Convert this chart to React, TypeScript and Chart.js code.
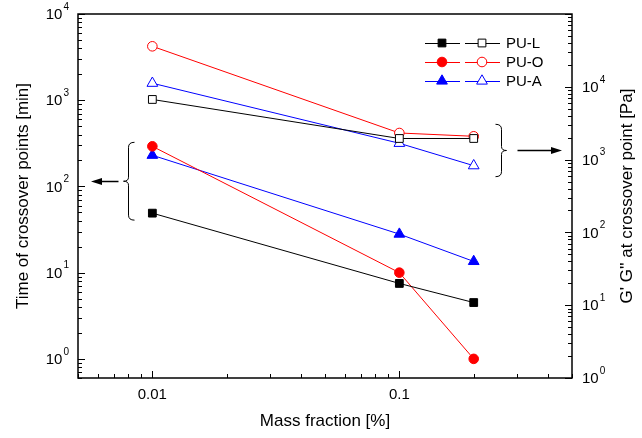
import React, { useEffect, useRef } from "react";
import { Chart, registerables } from "chart.js";

Chart.register(...registerables);

const massFraction = [0.01, 0.1, 0.2];
// time of crossover points [min] (left axis, filled symbols)
const timePUL = [49, 7.5, 4.5];
const timePUO = [292, 10, 1.0];
const timePUA = [230, 28, 13.5];
// G' G'' at crossover point [Pa] (right axis, open symbols)
const modPUL = [6700, 1950, 1950];
const modPUO = [36000, 2320, 2090];
const modPUA = [11200, 1675, 825];

const seriesNames = ["PU-L", "PU-O", "PU-A"];
const seriesColors = ["#000000", "#ff0000", "#0000ff"];
const seriesMarkers = ["rect", "circle", "triangle"];
const markerRadius = [5.5, 4.8, 6.2];

const xTickLabels = ["0.01", "0.1"];
const xTickValues = [0.01, 0.1];
const leftExps = [0, 1, 2, 3, 4];
const rightExps = [0, 1, 2, 3, 4, 5];

const FONT = "'Liberation Sans', Arial, sans-serif";

function pts(ys: number[]) {
  return massFraction.map((x, i) => ({ x, y: ys[i] }));
}

function drawMarker(ctx: CanvasRenderingContext2D, style: string, x: number, y: number, r: number, color: string, filled: boolean) {
  ctx.save();
  ctx.beginPath();
  if (style === "rect") {
    const s = r * Math.SQRT1_2;
    ctx.rect(x - s, y - s, 2 * s, 2 * s);
  } else if (style === "circle") {
    ctx.arc(x, y, r, 0, Math.PI * 2);
  } else {
    const h = r * 1.5;
    ctx.moveTo(x, y - r);
    ctx.lineTo(x + r * 0.866, y + r * 0.5);
    ctx.lineTo(x - r * 0.866, y + r * 0.5);
    ctx.closePath();
  }
  ctx.fillStyle = filled ? color : "#ffffff";
  ctx.fill();
  ctx.lineWidth = 1;
  ctx.strokeStyle = color;
  ctx.stroke();
  ctx.restore();
}

const decorPlugin = {
  id: "decor",
  afterDraw(chart: any) {
    const ctx: CanvasRenderingContext2D = chart.ctx;
    const a = chart.chartArea;
    const xs = chart.scales.x;
    const yl = chart.scales.yL;
    const yr = chart.scales.yR;
    ctx.save();
    ctx.strokeStyle = "#000";
    ctx.fillStyle = "#000";
    // frame
    ctx.lineWidth = 1.5;
    ctx.strokeRect(a.left, a.top, a.right - a.left, a.bottom - a.top);
    ctx.lineWidth = 1;
    // x ticks
    for (let d = -3; d <= 0; d++) {
      for (let m = 1; m <= 9; m++) {
        const v = m * Math.pow(10, d);
        if (v < xs.min * 0.999 || v > xs.max * 1.001) continue;
        const px = Math.round(xs.getPixelForValue(v)) + 0.5;
        const len = m === 1 ? 7 : 4;
        ctx.beginPath();
        ctx.moveTo(px, a.bottom);
        ctx.lineTo(px, a.bottom - len);
        ctx.stroke();
      }
    }
    // left ticks
    for (let d = -1; d <= 4; d++) {
      for (let m = 1; m <= 9; m++) {
        const v = m * Math.pow(10, d);
        if (v < yl.min * 0.999 || v > yl.max * 1.001) continue;
        const py = Math.round(yl.getPixelForValue(v)) + 0.5;
        const len = m === 1 ? 7 : 4;
        ctx.beginPath();
        ctx.moveTo(a.left, py);
        ctx.lineTo(a.left + len, py);
        ctx.stroke();
      }
    }
    // right ticks
    for (let d = 0; d <= 5; d++) {
      for (let m = 1; m <= 9; m++) {
        const v = m * Math.pow(10, d);
        if (v < yr.min * 0.999 || v > yr.max * 1.001) continue;
        const py = Math.round(yr.getPixelForValue(v)) + 0.5;
        const len = m === 1 ? 7 : 4;
        ctx.beginPath();
        ctx.moveTo(a.right, py);
        ctx.lineTo(a.right - len, py);
        ctx.stroke();
      }
    }
    // x tick labels
    ctx.font = "15px " + FONT;
    ctx.textAlign = "center";
    ctx.textBaseline = "middle";
    xTickValues.forEach((v, i) => {
      ctx.fillText(xTickLabels[i], xs.getPixelForValue(v), a.bottom + 17);
    });
    // left tick labels (10^n)
    const drawPow = (e: number, x: number, y: number, align: string) => {
      ctx.font = "15px " + FONT;
      const wBase = ctx.measureText("10").width;
      ctx.font = "10px " + FONT;
      const wExp = ctx.measureText(String(e)).width;
      const total = wBase + wExp + 1;
      const x0 = align === "right" ? x - total : x;
      ctx.textAlign = "left";
      ctx.textBaseline = "middle";
      ctx.font = "15px " + FONT;
      ctx.fillText("10", x0, y + 1);
      ctx.font = "10px " + FONT;
      ctx.fillText(String(e), x0 + wBase + 1, y - 7);
    };
    leftExps.forEach((e) => {
      const v = Math.pow(10, e);
      drawPow(e, a.left - 9, yl.getPixelForValue(v), "right");
    });
    rightExps.forEach((e) => {
      const v = Math.pow(10, e);
      if (v > yr.max * 1.001 || e === 5) return;
      drawPow(e, a.right + 10, yr.getPixelForValue(v), "left");
    });
    // axis titles
    ctx.font = "17px " + FONT;
    ctx.textAlign = "center";
    ctx.textBaseline = "middle";
    ctx.fillText("Mass fraction [%]", (a.left + a.right) / 2, a.bottom + 43);
    ctx.save();
    ctx.translate(a.left - 55, (a.top + a.bottom) / 2);
    ctx.rotate(-Math.PI / 2);
    ctx.fillText("Time of crossover points [min]", 0, 0);
    ctx.restore();
    ctx.save();
    ctx.translate(a.right + 55, (a.top + a.bottom) / 2);
    ctx.rotate(-Math.PI / 2);
    ctx.fillText("G' G'' at crossover point [Pa]", 0, 0);
    ctx.restore();

    // legend
    const lx = a.right - 147;
    seriesNames.forEach((name, i) => {
      const ly = a.top + 29 + i * 19;
      const c = seriesColors[i];
      ctx.lineWidth = 1;
      ctx.strokeStyle = c;
      ctx.beginPath();
      ctx.moveTo(lx, ly + 0.5);
      ctx.lineTo(lx + 35, ly + 0.5);
      ctx.moveTo(lx + 40, ly + 0.5);
      ctx.lineTo(lx + 75, ly + 0.5);
      ctx.stroke();
      drawMarker(ctx, seriesMarkers[i], lx + 17, ly, markerRadius[i], c, true);
      drawMarker(ctx, seriesMarkers[i], lx + 57, ly, markerRadius[i], c, false);
      ctx.fillStyle = "#000";
      ctx.font = "15px " + FONT;
      ctx.textAlign = "left";
      ctx.textBaseline = "middle";
      ctx.fillText(name, lx + 81, ly + 1);
    });

    // brackets
    const brace = (x0: number, yTop: number, yBot: number, dir: number) => {
      const mid = (yTop + yBot) / 2;
      ctx.strokeStyle = "#000";
      ctx.lineWidth = 1;
      ctx.beginPath();
      ctx.moveTo(x0 - dir * 6, yTop);
      ctx.quadraticCurveTo(x0, yTop, x0, yTop + 5);
      ctx.lineTo(x0, mid - 4);
      ctx.quadraticCurveTo(x0, mid, x0 + dir * 5, mid);
      ctx.quadraticCurveTo(x0, mid, x0, mid + 4);
      ctx.lineTo(x0, yBot - 5);
      ctx.quadraticCurveTo(x0, yBot, x0 - dir * 6, yBot);
      ctx.stroke();
      return mid;
    };
    const arrow = (x1: number, x2: number, y: number) => {
      ctx.strokeStyle = "#000";
      ctx.fillStyle = "#000";
      ctx.lineWidth = 1.5;
      const dir = Math.sign(x2 - x1);
      ctx.beginPath();
      ctx.moveTo(x1, y);
      ctx.lineTo(x2 - dir * 8, y);
      ctx.stroke();
      ctx.beginPath();
      ctx.moveTo(x2, y);
      ctx.lineTo(x2 - dir * 11, y - 3.5);
      ctx.lineTo(x2 - dir * 11, y + 3.5);
      ctx.closePath();
      ctx.fill();
    };
    const lbx = Math.round(xs.getPixelForValue(massFraction[0])) - 23.5;
    const lTop = yl.getPixelForValue(Math.max(timePUO[0], timePUA[0])) - 4;
    const lBot = yl.getPixelForValue(timePUL[0]) + 7;
    const lm = brace(lbx, lTop, lBot, -1);
    arrow(lbx - 10, a.left + 13, Math.round(lm) + 0.5);

    const rbx = Math.round(xs.getPixelForValue(massFraction[2])) + 27.5;
    const rTop = yr.getPixelForValue(modPUO[2]) - 12;
    const rBot = yr.getPixelForValue(modPUA[2]) + 11;
    const rm = brace(rbx, rTop, rBot, 1);
    arrow(rbx + 16, a.right - 10, Math.round(rm) + 0.5);
    ctx.restore();
  },
};

export default function App() {
  const ref = useRef<HTMLCanvasElement | null>(null);
  useEffect(() => {
    if (!ref.current) return;
    const mk = (label: string, ys: number[], i: number, filled: boolean) => ({
      label,
      data: pts(ys),
      yAxisID: filled ? "yL" : "yR",
      borderColor: seriesColors[i],
      backgroundColor: filled ? seriesColors[i] : "#ffffff",
      borderWidth: 1,
      pointStyle: seriesMarkers[i],
      pointRadius: markerRadius[i],
      pointBorderWidth: 1,
      pointBorderColor: seriesColors[i],
      pointBackgroundColor: filled ? seriesColors[i] : "#ffffff",
      tension: 0,
      fill: false,
    });
    const chart = new Chart(ref.current, {
      type: "line",
      data: {
        datasets: [
          mk("PU-L", timePUL, 0, true),
          mk("PU-O", timePUO, 1, true),
          mk("PU-A", timePUA, 2, true),
          mk("PU-L open", modPUL, 0, false),
          mk("PU-O open", modPUO, 1, false),
          mk("PU-A open", modPUA, 2, false),
        ] as any,
      },
      options: {
        animation: false,
        responsive: false,
        maintainAspectRatio: false,
        events: [],
        layout: { padding: { left: 78, top: 14, right: 70, bottom: 60 } },
        plugins: { legend: { display: false }, tooltip: { enabled: false } },
        scales: {
          x: { type: "logarithmic", min: 0.005, max: 0.5, display: false },
          yL: { type: "logarithmic", position: "left", min: 0.6, max: 10000, display: false },
          yR: { type: "logarithmic", position: "right", min: 1, max: 100000, display: false },
        },
      } as any,
      plugins: [decorPlugin],
    });
    return () => chart.destroy();
  }, []);
  return (
    <div style={{ position: "absolute", left: 0, top: 0, width: 642, height: 438, background: "#fff" }}>
      <canvas ref={ref} width={642} height={438} style={{ width: 642, height: 438, display: "block" }} />
    </div>
  );
}
